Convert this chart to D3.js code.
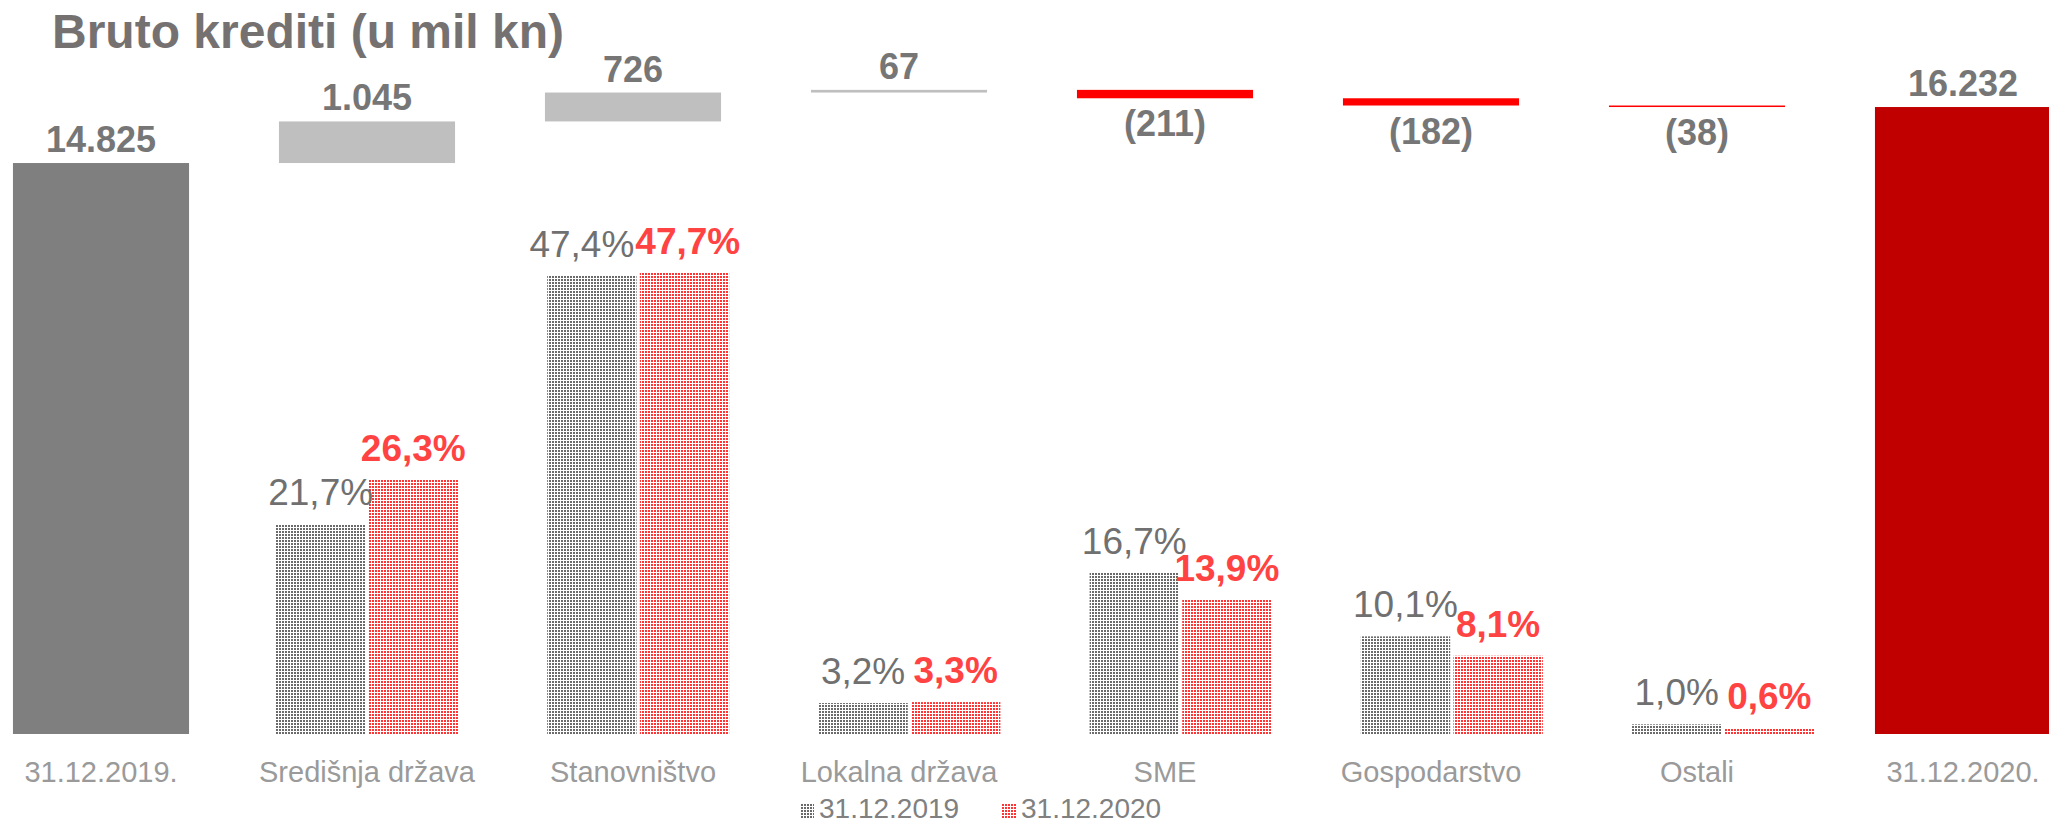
<!DOCTYPE html>
<html>
<head>
<meta charset="utf-8">
<script src="https://cdn.jsdelivr.net/npm/d3@7"></script>
<style>
  html, body { margin: 0; padding: 0; background: #ffffff; }
  svg { display: block; }
  text { font-family: "Liberation Sans", Arial, sans-serif; }
</style>
</head>
<body>
<script>
// ---- Data ----
const title = "Bruto krediti (u mil kn)";
const categories = ["31.12.2019.", "Središnja država", "Stanovništvo", "Lokalna država", "SME", "Gospodarstvo", "Ostali", "31.12.2020."];
const waterfallValues = [14825, 1045, 726, 67, -211, -182, -38, 16232];
const waterfallIsTotal = [true, false, false, false, false, false, false, true];

const segments = ["Središnja država", "Stanovništvo", "Lokalna država", "SME", "Gospodarstvo", "Ostali"];
const seriesNames = ["31.12.2019", "31.12.2020"];
const share2019 = [21.7, 47.4, 3.2, 16.7, 10.1, 1.0];
const share2020 = [26.3, 47.7, 3.3, 13.9, 8.1, 0.6];

// ---- Setup ----
const W = 2049, H = 825;
const svg = d3.select("body").append("svg").attr("width", W).attr("height", H);

const hr = d3.formatLocale({decimal: ",", thousands: ".", grouping: [3], currency: ["", " kn"]});
const fmtInt = hr.format(",d");
const fmtPct = hr.format(".1f");

const defs = svg.append("defs");
function dotPattern(id, color) {
  const p = defs.append("pattern").attr("id", id)
    .attr("patternUnits", "userSpaceOnUse").attr("width", 3).attr("height", 3);
  p.append("rect").attr("width", 3).attr("height", 3).attr("fill", "#ffffff");
  p.append("rect").attr("x", 0).attr("y", 0).attr("width", 2).attr("height", 2).attr("fill", color);
}
dotPattern("pat2019", "#6a6a6a");
dotPattern("pat2020", "#ff3535");
const patFill = {"31.12.2019": "url(#pat2019)", "31.12.2020": "url(#pat2020)"};

const baseY = 734;

// ---- Waterfall ----
const xW = d3.scaleBand().domain(categories).range([-32, 2096]).paddingInner(0.338).paddingOuter(0.169);
const yW = d3.scaleLinear().domain([480, 16700]).range([baseY, 88.4]);

let running = 0;
const wf = categories.map((c, i) => {
  const v = waterfallValues[i];
  let lo, hi;
  if (waterfallIsTotal[i]) { lo = yW.domain()[0]; hi = v; running = v; }
  else { const s = running; running = s + v; lo = Math.min(s, running); hi = Math.max(s, running); }
  return {cat: c, v, lo, hi, total: waterfallIsTotal[i], idx: i};
});

function wfColor(d) {
  if (d.total) return d.idx === 0 ? "#7f7f7f" : "#c00000";
  return d.v >= 0 ? "#bfbfbf" : "#ff0000";
}

svg.append("g").selectAll("rect").data(wf).join("rect")
  .attr("x", d => xW(d.cat))
  .attr("width", xW.bandwidth())
  .attr("y", d => yW(d.hi))
  .attr("height", d => Math.max(1.5, yW(d.lo) - yW(d.hi)))
  .attr("fill", wfColor);

svg.append("g").selectAll("text").data(wf).join("text")
  .attr("x", d => xW(d.cat) + xW.bandwidth() / 2)
  .attr("y", d => d.v >= 0 ? yW(d.hi) - 11 : yW(d.lo) + 38)
  .attr("text-anchor", "middle")
  .attr("font-size", 36).attr("font-weight", "bold").attr("fill", "#767676")
  .text(d => d.v >= 0 ? fmtInt(d.v) : "(" + fmtInt(-d.v) + ")");

// ---- Share bars ----
const xP = d3.scaleBand().domain(segments).range([276, 1814]).paddingInner(0.329).paddingOuter(0);
const xS = d3.scaleBand().domain(seriesNames).range([0, xP.bandwidth()]).paddingInner(0.035);
const yP = d3.scaleLinear().domain([0, 50]).range([baseY, 250.7]);

const shareData = [];
segments.forEach((s, i) => {
  shareData.push({seg: s, series: seriesNames[0], v: share2019[i]});
  shareData.push({seg: s, series: seriesNames[1], v: share2020[i]});
});

svg.append("g").selectAll("rect").data(shareData).join("rect")
  .attr("x", d => xP(d.seg) + xS(d.series))
  .attr("width", xS.bandwidth())
  .attr("y", d => yP(d.v))
  .attr("height", d => baseY - yP(d.v))
  .attr("fill", d => patFill[d.series]);

const pctLabels = svg.append("g").selectAll("text").data(shareData).join("text")
  .attr("x", d => xP(d.seg) + xS(d.series) + xS.bandwidth() / 2)
  .attr("y", d => yP(d.v) - 19)
  .attr("text-anchor", "middle")
  .attr("font-size", 37)
  .attr("font-weight", d => d.series === seriesNames[1] ? "bold" : "normal")
  .attr("fill", d => d.series === seriesNames[1] ? "#ff4343" : "#707070")
  .text(d => fmtPct(d.v) + "%");

// resolve horizontal collisions between paired labels sitting on nearly the same baseline
segments.forEach(s => {
  const nodes = pctLabels.filter(d => d.seg === s).nodes();
  if (nodes.length !== 2) return;
  const [a, b] = nodes;
  if (Math.abs(+a.getAttribute("y") - +b.getAttribute("y")) > 10) return;
  const ba = a.getBBox(), bb = b.getBBox();
  const hOverlap = (ba.x + ba.width + 1) - bb.x;
  if (hOverlap > 0) {
    a.setAttribute("x", +a.getAttribute("x") - hOverlap * 0.75);
    b.setAttribute("x", +b.getAttribute("x") + hOverlap * 0.25);
  }
});

// ---- Category axis labels ----
const xAxis = d3.axisBottom(xW).tickSize(0).tickPadding(0);
const gx = svg.append("g").attr("transform", `translate(0,${baseY})`).call(xAxis);
gx.select(".domain").remove();
gx.selectAll("text")
  .attr("dy", null).attr("y", 48)
  .attr("font-size", 29).attr("fill", "#9a9a9a")
  .style("font-family", "'Liberation Sans', Arial, sans-serif");

// ---- Title ----
svg.append("text").attr("x", 52).attr("y", 48)
  .attr("font-size", 48).attr("font-weight", "bold").attr("fill", "#767171")
  .text(title);

// ---- Legend ----
const legendX = [800, 1002];
const lg = svg.append("g");
seriesNames.forEach((s, i) => {
  lg.append("rect").attr("x", legendX[i]).attr("y", 804).attr("width", 14).attr("height", 14)
    .attr("fill", patFill[s]);
  lg.append("text").attr("x", legendX[i] + 19).attr("y", 818)
    .attr("font-size", 28).attr("fill", "#808080").text(s);
});
</script>
</body>
</html>
